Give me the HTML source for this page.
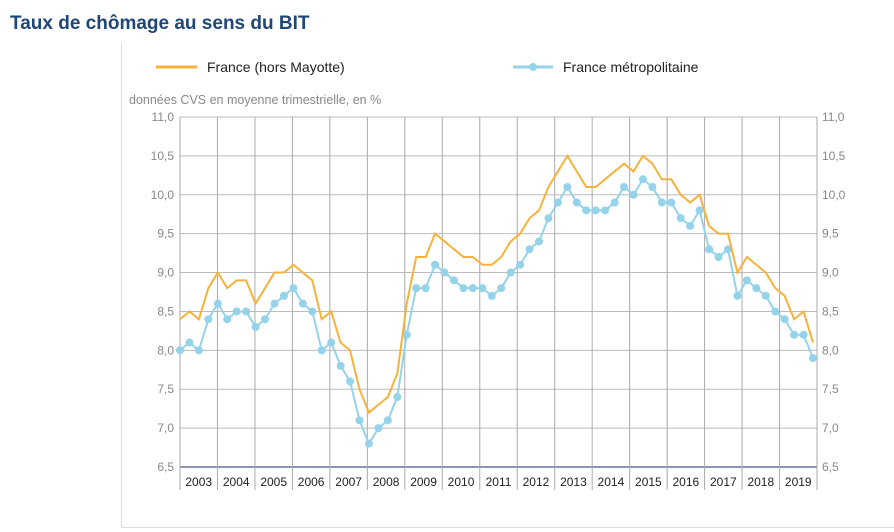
<!DOCTYPE html>
<html><head><meta charset="utf-8"><style>
body{margin:0;background:#fff;width:894px;height:532px;overflow:hidden;font-family:"Liberation Sans",sans-serif}
#title{position:absolute;left:10px;top:13px;font-size:19px;font-weight:bold;color:#1f4677}
#frame{position:absolute;left:121px;top:43px;width:780px;height:484px;border-left:1px solid #ddd;border-bottom:1px solid #ddd}
svg{position:absolute;left:0;top:0}
</style></head><body>
<div id="title">Taux de chômage au sens du BIT</div>
<div id="frame"></div>
<svg id="chart" width="894" height="532"></svg>
<script>
const years=["2003","2004","2005","2006","2007","2008","2009","2010","2011","2012","2013","2014","2015","2016","2017","2018","2019"];
const yTicks=[6.5,7.0,7.5,8.0,8.5,9.0,9.5,10.0,10.5,11.0];
const franceSeries=[8.4,8.5,8.4,8.8,9.0,8.8,8.9,8.9,8.6,8.8,9.0,9.0,9.1,9.0,8.9,8.4,8.5,8.1,8.0,7.5,7.2,7.3,7.4,7.7,8.6,9.2,9.2,9.5,9.4,9.3,9.2,9.2,9.1,9.1,9.2,9.4,9.5,9.7,9.8,10.1,10.3,10.5,10.3,10.1,10.1,10.2,10.3,10.4,10.3,10.5,10.4,10.2,10.2,10.0,9.9,10.0,9.6,9.5,9.5,9.0,9.2,9.1,9.0,8.8,8.7,8.4,8.5,8.1];
const metroSeries=[8.0,8.1,8.0,8.4,8.6,8.4,8.5,8.5,8.3,8.4,8.6,8.7,8.8,8.6,8.5,8.0,8.1,7.8,7.6,7.1,6.8,7.0,7.1,7.4,8.2,8.8,8.8,9.1,9.0,8.9,8.8,8.8,8.8,8.7,8.8,9.0,9.1,9.3,9.4,9.7,9.9,10.1,9.9,9.8,9.8,9.8,9.9,10.1,10.0,10.2,10.1,9.9,9.9,9.7,9.6,9.8,9.3,9.2,9.3,8.7,8.9,8.8,8.7,8.5,8.4,8.2,8.2,7.9];

const svg=document.getElementById('chart');const NS="http://www.w3.org/2000/svg";
const L=180,R=817,T=117,B=467;
const yMin=6.5,yMax=11.0;
const yS=v=>B-(v-yMin)/(yMax-yMin)*(B-T);
const yearW=(R-L)/years.length;
const nQ=franceSeries.length;
const xS=i=>L+i*(813-L)/(nQ-1);
function mk(tag,attrs,parent){const e=document.createElementNS(NS,tag);for(const k in attrs)e.setAttribute(k,attrs[k]);(parent||svg).appendChild(e);return e;}
yTicks.forEach(v=>{
  const y=yS(v);
  const g=mk('line',{x1:L,x2:R,y1:y,y2:y,stroke:v===6.5?'#1a2a6c':'#bbb','stroke-width':1});
  
  
  const t1=mk('text',{x:L-6,y:y+4,'text-anchor':'end','font-size':12,fill:'#888'});t1.textContent=v.toFixed(1).replace('.',',');
  
  
  const t2=mk('text',{x:R+5,y:y+4,'font-size':12,fill:'#888'});t2.textContent=v.toFixed(1).replace('.',',');
  
  
});
for(let i=0;i<=years.length;i++){
  const x=L+i*yearW;
  const l=mk('line',{x1:x,x2:x,y1:T,y2:490,stroke:'#aaa','stroke-width':1});
  
  
}
years.forEach((yr,i)=>{
  const t=mk('text',{x:L+(i+0.5)*yearW,y:486,'text-anchor':'middle','font-size':12,fill:'#222'});t.textContent=yr;
  
  
});
const ax=mk('text',{x:129,y:104,'font-size':12.5,fill:'#888'});ax.textContent='données CVS en moyenne trimestrielle, en %';


const pm=metroSeries.map((v,i)=>xS(i)+','+yS(v)).join(' ');
const lm=mk('polyline',{points:pm,fill:'none',stroke:'#94d3ea','stroke-width':2});


metroSeries.forEach((v,i)=>{const c=mk('circle',{cx:xS(i),cy:yS(v),r:4,fill:'#94d3ea'});
  
  });
const pf=franceSeries.map((v,i)=>xS(i)+','+yS(v)).join(' ');
const lf=mk('polyline',{points:pf,fill:'none',stroke:'#f7b23b','stroke-width':2});


const lg1=mk('line',{x1:156,x2:197,y1:67,y2:67,stroke:'#f7b23b','stroke-width':3});


const lt1=mk('text',{x:207,y:72,'font-size':14,fill:'#222'});lt1.textContent='France (hors Mayotte)';


const lg2=mk('line',{x1:513,x2:553,y1:67,y2:67,stroke:'#94d3ea','stroke-width':3});


const lc=mk('circle',{cx:533,cy:67,r:4,fill:'#94d3ea'});


const lt2=mk('text',{x:563,y:72,'font-size':14,fill:'#222'});lt2.textContent='France métropolitaine';


</script>
</body></html>
